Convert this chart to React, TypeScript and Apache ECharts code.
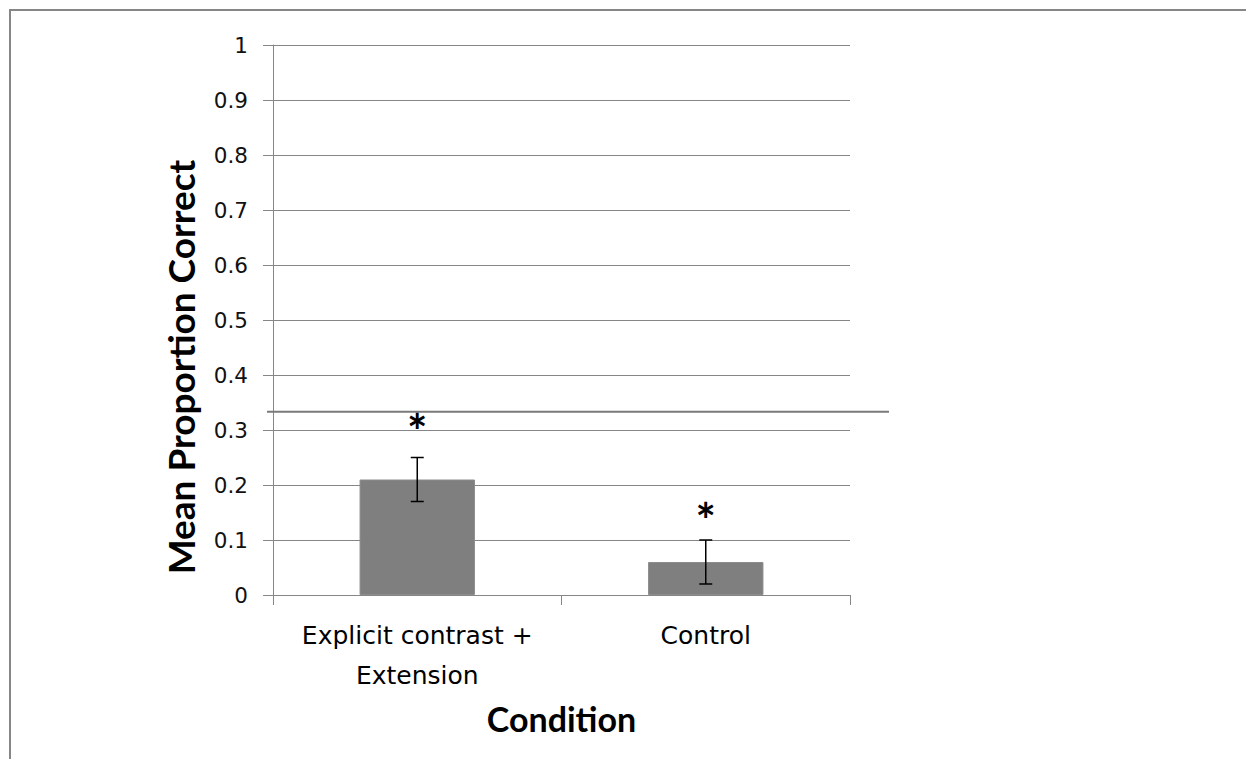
import React, { useEffect, useRef } from "react";
import * as echarts from "echarts";

const categories = ["Explicit contrast +\nExtension", "Control"];
const meanValues = [0.21, 0.06];
const errLow = [0.17, 0.02];
const errHigh = [0.25, 0.1];
const starValues = [0.3, 0.138];
const chanceLevel = 1 / 3;
const yMin = 0;
const yMax = 1;
const yInterval = 0.1;

const GRAY = "#868686";
const BAR = "#7f7f7f";

export default function App() {
  const ref = useRef<HTMLDivElement>(null);
  useEffect(() => {
    if (!ref.current) return;
    const chart = echarts.init(ref.current, undefined, { renderer: "svg" });
    const errData = categories.map((_, i) => [i, errLow[i], errHigh[i]]);
    const starData = categories.map((_, i) => [i, starValues[i]]);
    chart.setOption({
      animation: false,
      backgroundColor: "#ffffff",
      grid: { left: 273, right: 396, top: 45, bottom: 164, containLabel: false },
      xAxis: {
        type: "category",
        data: categories,
        boundaryGap: true,
        axisLine: { show: true, lineStyle: { color: GRAY, width: 1 } },
        axisTick: { show: true, length: 10, alignWithLabel: false, lineStyle: { color: GRAY } },
        axisLabel: {
          margin: 20,
          fontFamily: "DejaVu Sans",
          fontSize: 25,
          lineHeight: 40,
          color: "#000",
          interval: 0,
        },
        name: "Condition",
        nameLocation: "middle",
        nameGap: 106,
        nameTextStyle: { fontFamily: "Lato", fontWeight: "bold", fontSize: 34, color: "#000" },
      },
      yAxis: {
        type: "value",
        min: yMin,
        max: yMax,
        interval: yInterval,
        axisLine: { show: true, lineStyle: { color: GRAY, width: 1 } },
        axisTick: { show: true, length: 10, lineStyle: { color: GRAY } },
        axisLabel: { margin: 25, fontFamily: "DejaVu Sans", fontSize: 21.5, color: "#111" },
        splitLine: { show: true, lineStyle: { color: GRAY, width: 1 } },
      },
      graphic: [
        {
          type: "rect",
          shape: { x: 10, y: 10, width: 1300, height: 800 },
          style: { fill: "none", stroke: GRAY, lineWidth: 2 },
          silent: true,
          z: 100,
        },
        {
          type: "text",
          x: 180,
          y: 367,
          rotation: Math.PI / 2,
          style: {
            text: "Mean Proportion Correct",
            fontFamily: "Lato",
            fontWeight: "bold",
            fontSize: 37,
            fill: "#000",
            align: "center",
            verticalAlign: "middle",
          },
        },
      ],
      series: [
        {
          type: "bar",
          data: meanValues,
          barWidth: "40%",
          itemStyle: { color: BAR, borderColor: "#8c8c8c", borderWidth: 1 },
          z: 2,
        },
        {
          type: "custom",
          data: errData,
          z: 5,
          renderItem: (params: any, api: any) => {
            const i = api.value(0);
            const lo = api.coord([i, api.value(1)]);
            const hi = api.coord([i, api.value(2)]);
            const x = lo[0];
            const hw = 6.5;
            const st = { stroke: "#000", lineWidth: 1.5 };
            return {
              type: "group",
              children: [
                { type: "line", shape: { x1: x, y1: lo[1], x2: x, y2: hi[1] }, style: st },
                { type: "line", shape: { x1: x - hw, y1: lo[1], x2: x + hw, y2: lo[1] }, style: st },
                { type: "line", shape: { x1: x - hw, y1: hi[1], x2: x + hw, y2: hi[1] }, style: st },
              ],
            };
          },
        },
        {
          type: "custom",
          data: starData,
          z: 6,
          renderItem: (params: any, api: any) => {
            const p = api.coord([api.value(0), api.value(1)]);
            return {
              type: "text",
              x: p[0],
              y: p[1],
              style: {
                text: "*",
                fontFamily: "Lato",
                fontWeight: "bold",
                fontSize: 48,
                fill: "#000",
                align: "center",
                verticalAlign: "middle",
              },
            };
          },
        },
        {
          type: "custom",
          data: [[0, chanceLevel]],
          z: 4,
          clip: false,
          renderItem: (params: any, api: any) => {
            const p = api.coord([0, api.value(1)]);
            const cs = params.coordSys;
            return {
              type: "line",
              shape: { x1: cs.x - 6, y1: p[1], x2: cs.x + cs.width + 39, y2: p[1] },
              style: { stroke: "#7a7a7a", lineWidth: 2 },
            };
          },
        },
      ],
    });
    return () => chart.dispose();
  }, []);
  return (
    <div
      ref={ref}
      style={{ position: "fixed", left: 0, top: 0, width: 1246, height: 759, background: "#fff" }}
    />
  );
}
